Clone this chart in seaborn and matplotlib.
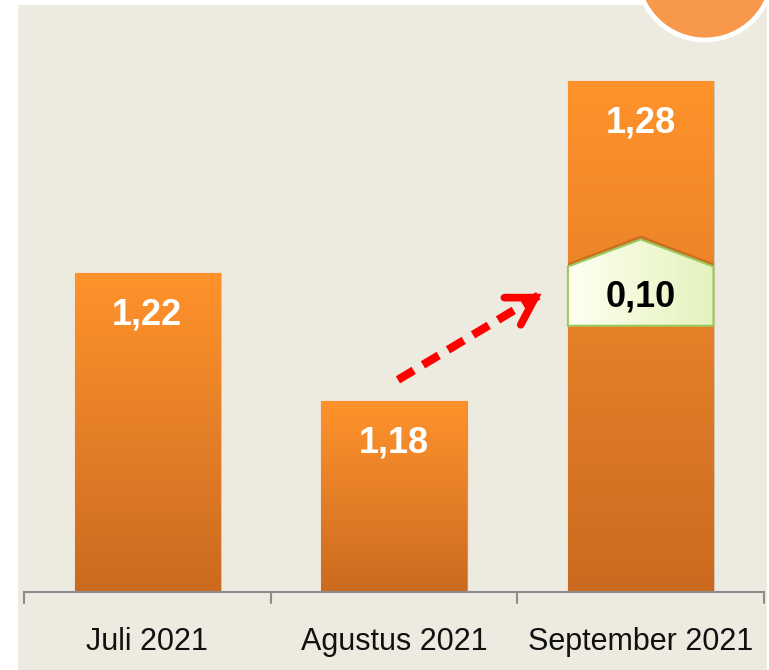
import numpy as np
import pandas as pd
import matplotlib
matplotlib.use("Agg")
import matplotlib.pyplot as plt
import matplotlib.patches as mpatches
from matplotlib.colors import LinearSegmentedColormap
import seaborn as sns

months = ["Juli 2021", "Agustus 2021", "September 2021"]
values = [1.22, 1.18, 1.28]
labels = ["1,22", "1,18", "1,28"]
change_label = "0,10"

COLORS = {
    "panel"   : "#edeae0",
    "bar_top" : "#ff932b",
    "bar_bot" : "#cb6a1f",
    "axis"    : "#8c8c8c",
    "circle"  : "#f7984a",
    "house_l" : "#fffff2",
    "house_r" : "#e3f3bd",
    "house_e" : "#9cc95c",
    "arrow"   : "#ff0000",
}

sns.set_theme(style="white")
NARROW = ["Liberation Sans Narrow", "DejaVu Sans Condensed", "Liberation Sans", "DejaVu Sans"]
plt.rcParams["font.family"] = NARROW

df = pd.DataFrame({"month": months, "value": values})

fig = plt.figure(figsize=(7.69, 6.70), dpi=100, facecolor="white")
W, H = 769, 670

# beige panel behind everything
fig.add_artist(mpatches.Rectangle((18 / W, 0), (767 - 18) / W, (H - 5) / H,
                                  transform=fig.transFigure, facecolor=COLORS["panel"],
                                  edgecolor="none", zorder=0))

ax = fig.add_axes([24 / W, (H - 592) / H, (764 - 24) / W, (592 - 5) / H])
ax.set_facecolor("none")
ax.set_zorder(1)

ymin = 1.1203
ymax = ymin + 587 / 3200
sns.barplot(data=df, x="month", y="value", color=COLORS["bar_top"], width=0.59,
            saturation=1, ax=ax, zorder=2)
ax.set_ylim(ymin, ymax)
ax.set_xlim(-0.5, 2.5)

# vertical gradient inside each bar
cmap = LinearSegmentedColormap.from_list("bar", [COLORS["bar_bot"], "#e57f28", COLORS["bar_top"]])
grad = np.linspace(0, 1, 256).reshape(-1, 1)
for p in ax.patches:
    x0, w, h = p.get_x(), p.get_width(), p.get_height()
    y0 = ymin
    top = p.get_y() + h
    p.set_edgecolor("#f08a30")
    p.set_linewidth(0.8)
    # soft shadow
    ax.add_patch(mpatches.Rectangle((x0 + 0.006, y0), w, top - y0, facecolor="#b9b3a3",
                                    edgecolor="none", alpha=0.6, zorder=1.5))
    im = ax.imshow(grad, extent=[x0, x0 + w, y0, top], origin="lower", cmap=cmap,
                   aspect="auto", zorder=2.5)
    im.set_clip_path(p)

# value labels near the top of each bar
for i, (v, lab) in enumerate(zip(values, labels)):
    ax.annotate(lab, xy=(i, v), xytext=(0, -30), textcoords="offset points",
                ha="center", va="center", color="white", fontsize=26, fontweight="bold",
                zorder=5)

# "house" box showing the change on the September bar
bar = ax.patches[2]
bx0, bx1 = bar.get_x(), bar.get_x() + bar.get_width()
hb, hs, hp = 1.2035, 1.222, 1.2305
house = mpatches.Polygon([(bx0, hb), (bx0, hs), ((bx0 + bx1) / 2, hp), (bx1, hs), (bx1, hb)],
                         closed=True, facecolor="none", edgecolor=COLORS["house_e"],
                         linewidth=1.5, zorder=4)
shadow = mpatches.Polygon([(bx0, hb), (bx0, hs + 0.001), ((bx0 + bx1) / 2, hp + 0.0012),
                           (bx1, hs + 0.001), (bx1, hb)],
                          closed=True, facecolor="#a0501a", edgecolor="none", alpha=0.45, zorder=2.8)
ax.add_patch(shadow)
hcmap = LinearSegmentedColormap.from_list("house", [COLORS["house_l"], COLORS["house_r"]])
him = ax.imshow(np.linspace(0, 1, 256).reshape(1, -1), extent=[bx0, bx1, hb, hp],
                cmap=hcmap, aspect="auto", zorder=3)
ax.add_patch(house)
him.set_clip_path(house)
ax.text((bx0 + bx1) / 2, 1.2125, change_label, ha="center", va="center", color="black",
        fontsize=26, fontweight="bold", zorder=5)

# red dashed arrow from Agustus to September
tail = (1.016, 1.1866)
tip = (1.598, 1.2135)
ax.plot([tail[0], 1.585], [tail[1], 1.2129], color=COLORS["arrow"], lw=6, ls=(0, (2.2, 1.3)),
        solid_capstyle="butt", dash_capstyle="butt", zorder=4)
ax.annotate("", xy=tip, xytext=(1.57, 1.2122),
            arrowprops=dict(arrowstyle="->,head_length=1.0,head_width=0.6", color=COLORS["arrow"],
                            lw=5.5, capstyle="round", joinstyle="miter", shrinkA=0, shrinkB=0,
                            mutation_scale=19),
            zorder=4)

# axis styling
for s in ["top", "right", "left"]:
    ax.spines[s].set_visible(False)
ax.spines["bottom"].set_color(COLORS["axis"])
ax.spines["bottom"].set_linewidth(1.5)
ax.set_yticks([])
ax.set_xticks([0, 1, 2])
ax.set_xticklabels(months, fontsize=22, color="#111111")
ax.tick_params(axis="x", length=0, pad=25)
for xb in [-0.5, 0.5, 1.5, 2.5]:
    ax.plot([xb, xb], [ymin, ymin - 11 / 3200], color=COLORS["axis"], lw=1.5,
            clip_on=False, zorder=3)
ax.set_xlabel("")
ax.set_ylabel("")

# orange circle peeking in at top right
fig.add_artist(mpatches.Circle((7.05, 6.98), 0.68, transform=fig.dpi_scale_trans,
                               facecolor=COLORS["circle"], edgecolor="white", linewidth=3.5,
                               zorder=3))

fig.savefig("out.png", dpi=100, facecolor="white")
